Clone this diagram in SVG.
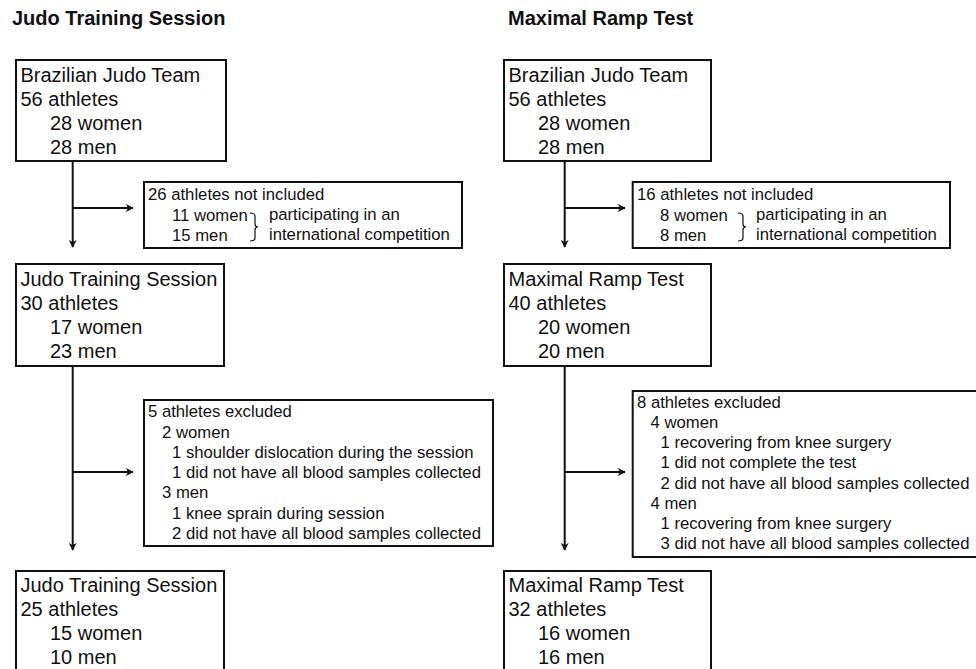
<svg xmlns="http://www.w3.org/2000/svg" width="976" height="669" viewBox="0 0 976 669">
<defs>
<style>
.title{font-family:"Liberation Sans",Arial,sans-serif;font-size:20px;font-weight:bold;fill:#111}
.big{font-family:"Liberation Sans",Arial,sans-serif;font-size:20px;fill:#111}
.sm{font-family:"Liberation Sans",Arial,sans-serif;font-size:16.7px;fill:#111}
.box{fill:#fff;stroke:#111;stroke-width:2}
.ln{fill:none;stroke:#111;stroke-width:2}
.br{fill:none;stroke:#111;stroke-width:1.2}
</style>
<marker id="ah" viewBox="0 0 10 10" refX="9" refY="5" markerWidth="8" markerHeight="8" markerUnits="userSpaceOnUse" orient="auto">
<path d="M0,0 L10,5 L0,10 L3,5 z" fill="#111"/>
</marker>
</defs>
<rect width="976" height="669" fill="#fff"/>
<text class="title" x="12" y="25">Judo Training Session</text>
<text class="title" x="508" y="25">Maximal Ramp Test</text>

<g id="connectors">
<path class="ln" d="M72.7,161 V247" marker-end="url(#ah)"/>
<path class="ln" d="M72.7,208 H133" marker-end="url(#ah)"/>
<path class="ln" d="M72.7,366 V550" marker-end="url(#ah)"/>
<path class="ln" d="M72.7,472 H133" marker-end="url(#ah)"/>
<path class="ln" d="M564.7,161 V247" marker-end="url(#ah)"/>
<path class="ln" d="M564.7,208 H625" marker-end="url(#ah)"/>
<path class="ln" d="M564.7,366 V550" marker-end="url(#ah)"/>
<path class="ln" d="M564.7,472 H625" marker-end="url(#ah)"/>
</g>

<g id="l1">
<rect class="box" x="16" y="60" width="210" height="101"/>
<text class="big" x="20.5" y="82">Brazilian Judo Team</text>
<text class="big" x="20.5" y="106">56 athletes</text>
<text class="big" x="50" y="130">28 women</text>
<text class="big" x="50" y="154">28 men</text>
</g>
<g id="l2">
<rect class="box" x="144" y="182" width="318" height="66"/>
<text class="sm" x="148" y="200">26 athletes not included</text>
<text class="sm" x="172" y="221">11 women</text>
<text class="sm" x="172" y="241">15 men</text>
<path class="br" d="M250,213 q5,0 5,3 v8 q0,3 3,3 q-3,0 -3,3 v8 q0,3 -5,3"/>
<text class="sm" x="269" y="220">participating in an</text>
<text class="sm" x="269" y="240">international competition</text>
</g>
<g id="l3">
<rect class="box" x="16" y="264" width="208" height="102"/>
<text class="big" x="20.5" y="286">Judo Training Session</text>
<text class="big" x="20.5" y="310">30 athletes</text>
<text class="big" x="50" y="334">17 women</text>
<text class="big" x="50" y="358">23 men</text>
</g>
<g id="l4">
<rect class="box" x="144" y="400" width="349" height="146"/>
<text class="sm" x="148" y="417">5 athletes excluded</text>
<text class="sm" x="162" y="438">2 women</text>
<text class="sm" x="172" y="458">1 shoulder dislocation during the session</text>
<text class="sm" x="172" y="478">1 did not have all blood samples collected</text>
<text class="sm" x="162" y="498">3 men</text>
<text class="sm" x="172" y="519">1 knee sprain during session</text>
<text class="sm" x="172" y="539">2 did not have all blood samples collected</text>
</g>
<g id="l5">
<rect class="box" x="16" y="571" width="208" height="110"/>
<text class="big" x="20.5" y="592">Judo Training Session</text>
<text class="big" x="20.5" y="616">25 athletes</text>
<text class="big" x="50" y="640">15 women</text>
<text class="big" x="50" y="664">10 men</text>
</g>

<g id="r1">
<rect class="box" x="504" y="60" width="207" height="101"/>
<text class="big" x="508.5" y="82">Brazilian Judo Team</text>
<text class="big" x="508.5" y="106">56 athletes</text>
<text class="big" x="538" y="130">28 women</text>
<text class="big" x="538" y="154">28 men</text>
</g>
<g id="r2">
<rect class="box" x="632.7" y="182" width="317.3" height="66"/>
<text class="sm" x="637" y="200">16 athletes not included</text>
<text class="sm" x="660" y="221">8 women</text>
<text class="sm" x="660" y="241">8 men</text>
<path class="br" d="M738,213 q5,0 5,3 v8 q0,3 3,3 q-3,0 -3,3 v8 q0,3 -5,3"/>
<text class="sm" x="756" y="220">participating in an</text>
<text class="sm" x="756" y="240">international competition</text>
</g>
<g id="r3">
<rect class="box" x="504" y="264" width="207" height="102"/>
<text class="big" x="508.5" y="286">Maximal Ramp Test</text>
<text class="big" x="508.5" y="310">40 athletes</text>
<text class="big" x="538" y="334">20 women</text>
<text class="big" x="538" y="358">20 men</text>
</g>
<g id="r4">
<rect class="box" x="632.7" y="391" width="360" height="166"/>
<text class="sm" x="637" y="408">8 athletes excluded</text>
<text class="sm" x="650.5" y="428">4 women</text>
<text class="sm" x="660.5" y="448">1 recovering from knee surgery</text>
<text class="sm" x="660.5" y="468">1 did not complete the test</text>
<text class="sm" x="660.5" y="489">2 did not have all blood samples collected</text>
<text class="sm" x="650.5" y="509">4 men</text>
<text class="sm" x="660.5" y="529">1 recovering from knee surgery</text>
<text class="sm" x="660.5" y="549">3 did not have all blood samples collected</text>
</g>
<g id="r5">
<rect class="box" x="504" y="571" width="207" height="110"/>
<text class="big" x="508.5" y="592">Maximal Ramp Test</text>
<text class="big" x="508.5" y="616">32 athletes</text>
<text class="big" x="538" y="640">16 women</text>
<text class="big" x="538" y="664">16 men</text>
</g>
</svg>
